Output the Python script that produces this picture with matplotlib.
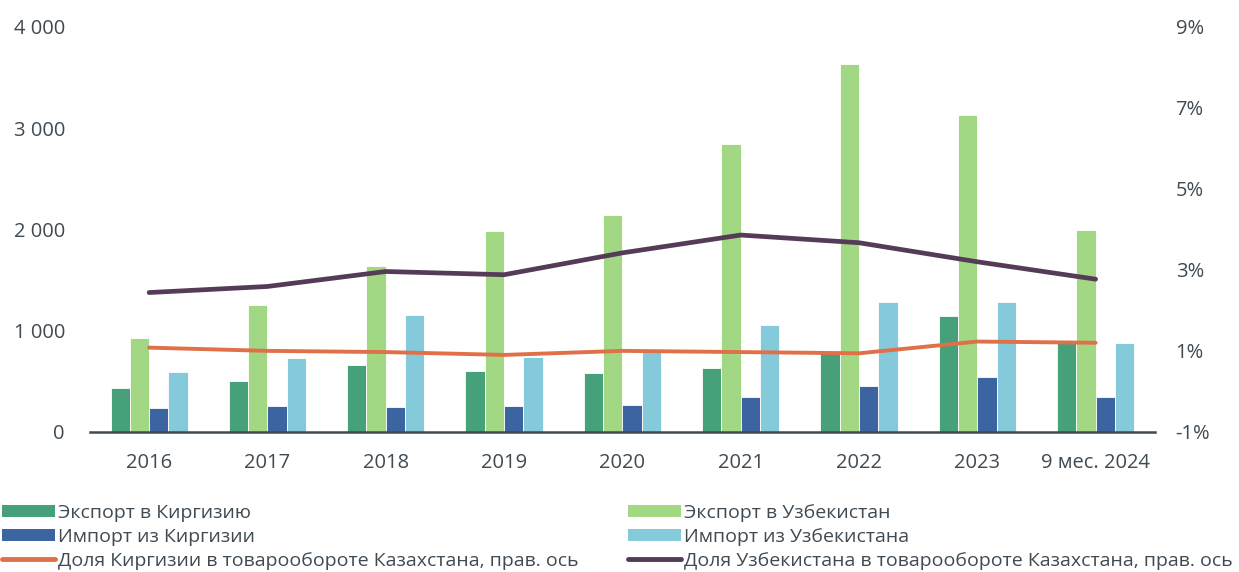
import matplotlib
matplotlib.use("Agg")
import matplotlib.pyplot as plt
import matplotlib.patches as patches
from matplotlib.lines import Line2D
import numpy as np

plt.rcParams['font.family'] = ['Open Sans', 'DejaVu Sans']

years = ["2016", "2017", "2018", "2019", "2020", "2021", "2022", "2023", "9 мес. 2024"]

# млн долл.
export_kg = [437, 504, 659, 606, 583, 629, 790, 1149, 880]
export_uz = [925, 1251, 1640, 1982, 2140, 2844, 3638, 3131, 1992]
import_kg = [234, 257, 244, 254, 270, 346, 454, 543, 343]
import_uz = [590, 734, 1156, 744, 785, 1057, 1287, 1287, 879]

# доли, %
share_kg = [1.08, 1.00, 0.97, 0.90, 1.00, 0.97, 0.94, 1.23, 1.20]
share_uz = [2.44, 2.59, 2.96, 2.88, 3.42, 3.86, 3.67, 3.20, 2.77]

c_ekg = '#46a07a'
c_euz = '#a2d884'
c_ikg = '#3c64a0'
c_iuz = '#85cada'
c_lkg = '#e07048'
c_luz = '#553b58'
txt = '#3f4a52'

fig = plt.figure(figsize=(12.39, 5.72), dpi=100)
ax = fig.add_axes([0.0726, 0.245, 0.8594, 0.708])

x = np.arange(len(years))
w = 0.163
series = [(export_kg, c_ekg), (export_uz, c_euz), (import_kg, c_ikg), (import_uz, c_iuz)]
for i, (vals, col) in enumerate(series):
    ax.bar(x + (i - 1.5) * w, vals, w, color=col, edgecolor='white', linewidth=0.6)

ax.set_xlim(-0.5, len(years) - 0.5)
ax.set_ylim(0, 4000)
ax.set_yticks([0, 1000, 2000, 3000, 4000])
ax.set_yticklabels(["0", "1 000", "2 000", "3 000", "4 000"])
ax.set_xticks(x)
ax.set_xticklabels(years)
ax.tick_params(axis='both', length=0, labelsize=14.5, colors=txt)
ax.tick_params(axis='y', pad=18)
ax.tick_params(axis='x', pad=15)
for s in ['top', 'right', 'left']:
    ax.spines[s].set_visible(False)
ax.spines['bottom'].set_color(txt)
ax.spines['bottom'].set_linewidth(1.8)

ax2 = ax.twinx()
ax2.plot(x, share_kg, color=c_lkg, lw=2.8, solid_capstyle='round', solid_joinstyle='round')
ax2.plot(x, share_uz, color=c_luz, lw=3.4, solid_capstyle='round', solid_joinstyle='round')
ax2.set_ylim(-1, 9)
ax2.set_yticks([-1, 1, 3, 5, 7, 9])
ax2.set_yticklabels(["-1%", "1%", "3%", "5%", "7%", "9%"])
ax2.tick_params(axis='y', length=0, labelsize=14.5, colors=txt, pad=15)
for s in ax2.spines.values():
    s.set_visible(False)

def bar_handle(col):
    return patches.Patch(facecolor=col, edgecolor='none')

h1 = [bar_handle(c_ekg), bar_handle(c_ikg),
      Line2D([], [], color=c_lkg, lw=3.5, solid_capstyle='round')]
l1 = ["Экспорт в Киргизию", "Импорт из Киргизии",
      "Доля Киргизии в товарообороте Казахстана, прав. ось"]
h2 = [bar_handle(c_euz), bar_handle(c_iuz),
      Line2D([], [], color=c_luz, lw=3.5, solid_capstyle='round')]
l2 = ["Экспорт в Узбекистан", "Импорт из Узбекистана",
      "Доля Узбекистана в товарообороте Казахстана, прав. ось"]

common = dict(loc='upper left', frameon=False, fontsize=14, handlelength=2.7,
              handleheight=0.62, handletextpad=0.15, labelspacing=0.3,
              borderaxespad=0, borderpad=0, labelcolor=txt)
leg1 = fig.legend(h1, l1, bbox_to_anchor=(0.002, 0.119), **common)
leg2 = fig.legend(h2, l2, bbox_to_anchor=(0.507, 0.119), **common)

fig.savefig("out.png", dpi=100)
